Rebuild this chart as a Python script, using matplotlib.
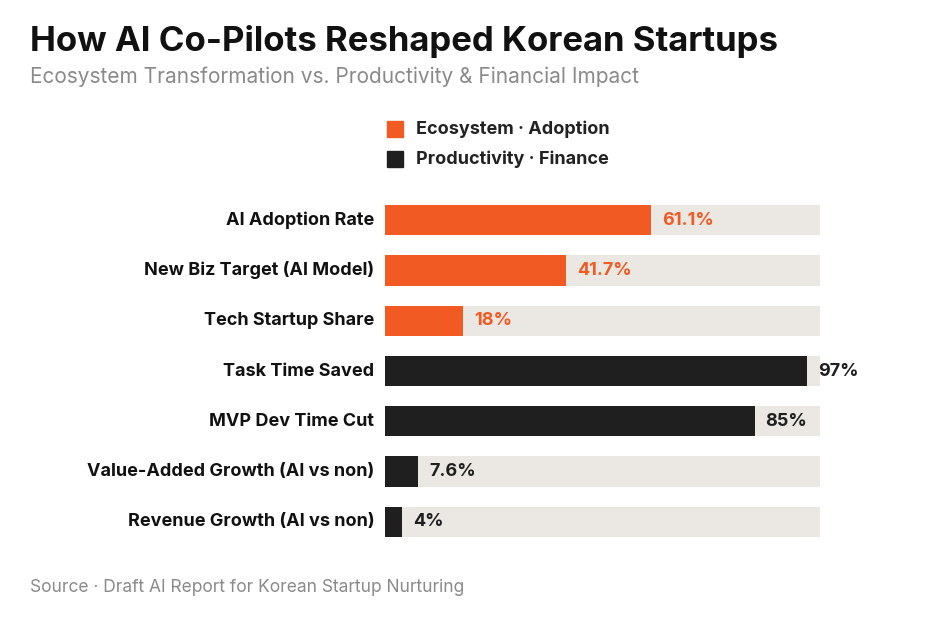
import matplotlib.pyplot as plt
from matplotlib.patches import Rectangle

plt.rcParams['font.family'] = ['Inter', 'DejaVu Sans']

labels = ["AI Adoption Rate", "New Biz Target (AI Model)", "Tech Startup Share",
          "Task Time Saved", "MVP Dev Time Cut", "Value-Added Growth (AI vs non)",
          "Revenue Growth (AI vs non)"]
values = [61.1, 41.7, 18, 97, 85, 7.6, 4]
value_text = ["61.1%", "41.7%", "18%", "97%", "85%", "7.6%", "4%"]
groups = ["eco", "eco", "eco", "prod", "prod", "prod", "prod"]

colors = {"eco": "#f15a22", "prod": "#1f1f1f"}
track = "#ebe8e3"

fig = plt.figure(figsize=(9.4, 6.2), dpi=100)
ax = fig.add_axes([385 / 940, 1 - 547 / 620, 435 / 940, 352 / 620])
ax.set_xlim(0, 100)
ax.set_ylim(len(values) - 0.5, -0.5)
ax.axis("off")

for i, (lab, v, t, g) in enumerate(zip(labels, values, value_text, groups)):
    ax.barh(i, 100, height=0.6, color=track, zorder=1)
    ax.barh(i, v, height=0.6, color=colors[g], zorder=2)
    ax.text(v + 2.5, i, t, va="center", ha="left", fontsize=13, fontweight="bold",
            color=colors[g])
    ax.text(-2.5, i, lab, va="center", ha="right", fontsize=13, fontweight="bold",
            color="#111111")

fig.text(30 / 940, 1 - 42 / 620, "How AI Co-Pilots Reshaped Korean Startups",
         fontsize=25, fontweight="bold", va="center", ha="left", color="#111111")
fig.text(30 / 940, 1 - 77 / 620, "Ecosystem Transformation vs. Productivity & Financial Impact",
         fontsize=15, va="center", ha="left", color="#8a8a8a")
fig.text(30 / 940, 1 - 588 / 620, "Source · Draft AI Report for Korean Startup Nurturing",
         fontsize=12.5, va="center", ha="left", color="#8a8a8a")

for y, name, g in [(129, "Ecosystem · Adoption", "eco"), (159, "Productivity · Finance", "prod")]:
    fig.patches.append(Rectangle((387 / 940, 1 - (y + 8) / 620), 16 / 940, 16 / 620,
                                 transform=fig.transFigure, color=colors[g]))
    fig.text(416 / 940, 1 - y / 620, name, fontsize=13, fontweight="bold",
             va="center", ha="left", color="#222222")

fig.savefig("out.png", dpi=100)
